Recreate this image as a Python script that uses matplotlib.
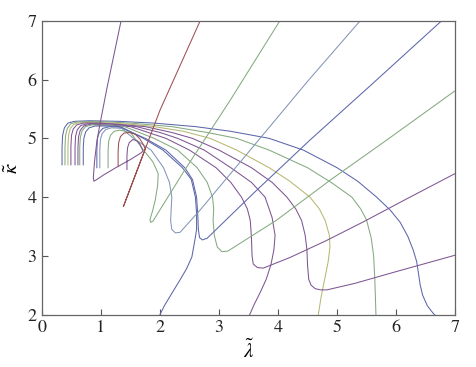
import matplotlib
matplotlib.use("Agg")
import matplotlib.pyplot as plt

plt.rcParams["font.family"] = ["STIXGeneral", "Liberation Serif", "DejaVu Serif"]
plt.rcParams["mathtext.fontset"] = "stix"

blue = "#5c66aa"
green = "#84aa80"
olive = "#b8b872"
purple = "#7e5592"
red = "#9e4e4e"
greyblue = "#8396b6"

# each curve: (x, y, colour)
c1_x = [0.34, 0.34, 0.35, 0.38, 0.44, 0.55, 0.8, 1.3, 1.9, 2.6, 3.2, 3.85, 4.43, 5.0, 5.35, 5.67, 5.90, 6.07, 6.20, 6.29, 6.35, 6.38, 6.41, 6.45, 6.53, 6.63, 6.70]
c1_y = [4.55, 4.85, 5.05, 5.18, 5.26, 5.29, 5.30, 5.29, 5.26, 5.2, 5.12, 5.0, 4.8, 4.5, 4.27, 4.0, 3.78, 3.57, 3.33, 3.1, 2.9, 2.7, 2.5, 2.33, 2.15, 2.02, 1.95]

c2_x = [0.39, 0.39, 0.40, 0.43, 0.49, 0.6, 0.9, 1.5, 2.2, 2.8, 3.3, 3.85, 4.5, 4.9, 5.25, 5.4, 5.50, 5.58, 5.62, 5.64, 5.65, 5.66]
c2_y = [4.55, 4.85, 5.05, 5.17, 5.25, 5.28, 5.29, 5.26, 5.2, 5.1, 5.0, 4.8, 4.5, 4.25, 4.0, 3.8, 3.61, 3.3, 3.0, 2.6, 2.3, 1.98]

c3_x = [0.44, 0.44, 0.45, 0.48, 0.54, 0.65, 1.0, 1.5, 1.9, 2.4, 2.85, 3.3, 3.85, 4.2, 4.54, 4.70, 4.80, 4.87, 4.88, 4.85, 4.79, 4.73, 4.68]
c3_y = [4.55, 4.85, 5.05, 5.17, 5.24, 5.27, 5.27, 5.24, 5.2, 5.12, 5.0, 4.8, 4.5, 4.27, 4.0, 3.8, 3.6, 3.35, 3.15, 2.9, 2.6, 2.3, 1.98]

c4_x = [0.49, 0.49, 0.50, 0.53, 0.59, 0.7, 1.0, 1.4, 1.75, 2.2, 2.55, 3.0, 3.55, 3.9, 4.15, 4.30, 4.40, 4.46, 4.49, 4.50, 4.52, 4.56, 4.63, 4.72, 4.83, 5.3, 6.0, 6.5, 7.0]
c4_y = [4.55, 4.85, 5.05, 5.16, 5.23, 5.26, 5.26, 5.23, 5.2, 5.1, 5.0, 4.8, 4.5, 4.25, 4.0, 3.8, 3.6, 3.35, 3.1, 2.85, 2.6, 2.5, 2.44, 2.42, 2.42, 2.53, 2.73, 2.87, 3.01]

c5_x = [0.56, 0.56, 0.57, 0.60, 0.66, 0.78, 1.1, 1.6, 2.0, 2.3, 2.75, 3.2, 3.55, 3.78, 3.90, 3.95, 3.93, 3.88, 3.80, 3.70, 3.60, 3.53, 3.50]
c5_y = [4.55, 4.85, 5.04, 5.15, 5.22, 5.25, 5.25, 5.2, 5.1, 5.0, 4.8, 4.5, 4.25, 4.0, 3.65, 3.35, 3.1, 2.85, 2.6, 2.38, 2.18, 2.02, 1.96]

c6_x = [0.61, 0.61, 0.62, 0.65, 0.71, 0.82, 1.1, 1.5, 1.8, 2.1, 2.5, 2.95, 3.2, 3.38, 3.48, 3.53, 3.55, 3.56, 3.58, 3.65, 3.75, 4.2, 4.8, 5.45, 6.2, 7.0]
c6_y = [4.55, 4.85, 5.03, 5.14, 5.21, 5.24, 5.23, 5.2, 5.1, 5.0, 4.8, 4.5, 4.25, 4.0, 3.8, 3.6, 3.3, 3.0, 2.86, 2.80, 2.79, 2.97, 3.25, 3.58, 3.98, 4.40]

c7_x = [0.64, 0.64, 0.65, 0.68, 0.74, 0.85, 1.1, 1.4, 1.9, 2.3, 2.63, 2.80, 2.89, 2.91, 2.90, 2.92, 2.97, 3.05, 3.15, 3.98, 4.9, 5.84, 7.0]
c7_y = [4.55, 4.85, 5.02, 5.13, 5.2, 5.23, 5.22, 5.2, 5.0, 4.8, 4.5, 4.25, 4.0, 3.8, 3.6, 3.35, 3.15, 3.07, 3.08, 3.61, 4.3, 4.97, 5.81]

c8_x = [0.70, 0.70, 0.71, 0.74, 0.80, 0.9, 1.1, 1.3, 1.75, 2.1, 2.42, 2.55, 2.62, 2.64, 2.65, 2.67, 2.72, 2.80, 3.6, 4.54, 5.6, 6.77]
c8_y = [4.55, 4.85, 5.0, 5.11, 5.18, 5.21, 5.21, 5.2, 5.0, 4.8, 4.5, 4.3, 4.0, 3.7, 3.45, 3.31, 3.27, 3.30, 4.08, 4.97, 5.93, 7.0]

c9_x = [0.93, 0.93, 0.94, 0.97, 1.03, 1.15, 1.35, 1.72, 2.05, 2.38, 2.53, 2.60, 2.62, 2.62, 2.60, 2.54, 2.45, 2.34, 2.2, 2.08, 2.0]
c9_y = [4.5, 4.8, 5.0, 5.1, 5.17, 5.2, 5.19, 5.0, 4.8, 4.5, 4.3, 4.0, 3.72, 3.45, 3.32, 2.98, 2.78, 2.59, 2.36, 2.16, 2.0]

c10_x = [0.98, 0.98, 0.99, 1.02, 1.08, 1.18, 1.35, 1.55, 1.85, 2.06, 2.16, 2.20, 2.19, 2.18, 2.2, 2.26, 2.34, 2.68, 3.67, 4.5, 5.39]
c10_y = [4.5, 4.8, 4.98, 5.08, 5.15, 5.18, 5.17, 5.0, 4.8, 4.5, 4.25, 4.0, 3.8, 3.6, 3.45, 3.39, 3.40, 3.78, 4.97, 5.97, 7.0]

c11_x = [1.12, 1.12, 1.13, 1.16, 1.22, 1.32, 1.5, 1.72, 1.88, 1.97, 1.96, 1.92, 1.87, 1.83, 1.84, 1.88, 2.4, 3.19, 4.03]
c11_y = [4.5, 4.78, 4.95, 5.05, 5.12, 5.14, 5.1, 4.8, 4.6, 4.4, 4.2, 3.95, 3.75, 3.62, 3.57, 3.59, 4.43, 5.65, 7.0]

c12_x = [1.29, 1.29, 1.30, 1.33, 1.39, 1.48, 1.58, 1.66, 1.72, 1.75, 1.38, 1.75, 2.0, 2.3, 2.68]
c12_y = [4.52, 4.78, 4.93, 5.03, 5.09, 5.1, 5.07, 4.99, 4.89, 4.82, 3.84, 4.82, 5.48, 6.15, 7.0]

c13_x = [1.44, 1.44, 1.45, 1.48, 1.54, 1.61, 1.66, 1.71, 1.69, 1.5, 1.25, 1.05, 0.93, 0.88, 0.87, 0.89, 0.93, 0.98, 1.1, 1.34]
c13_y = [4.47, 4.7, 4.84, 4.93, 4.98, 4.96, 4.9, 4.79, 4.76, 4.64, 4.5, 4.38, 4.3, 4.27, 4.33, 4.6, 4.95, 5.23, 5.85, 7.0]

curves = [
    (c1_x, c1_y, blue), (c2_x, c2_y, green), (c3_x, c3_y, olive),
    (c4_x, c4_y, purple), (c5_x, c5_y, purple), (c6_x, c6_y, purple),
    (c7_x, c7_y, green), (c8_x, c8_y, blue), (c9_x, c9_y, blue),
    (c10_x, c10_y, greyblue), (c11_x, c11_y, green), (c12_x, c12_y, red),
    (c13_x, c13_y, purple),
]

fig = plt.figure(figsize=(4.77, 3.67), dpi=100)
ax = fig.add_axes([0.088, 0.143, 0.866, 0.8])

for xs, ys, col in curves:
    ax.plot(xs, ys, color=col, lw=0.75, solid_joinstyle="round")

ax.set_xlim(0, 7)
ax.set_ylim(2, 7)
ax.set_xticks(range(0, 8))
ax.set_yticks(range(2, 8))
ax.tick_params(direction="in", length=4, width=0.8, colors="#555555",
               labelcolor="#222222", labelsize=13, top=False, right=False, pad=4)
for s in ax.spines.values():
    s.set_color("#666666")
    s.set_linewidth(0.9)

ax.set_xlabel(r"$\tilde{\lambda}$", fontsize=15)
ax.set_ylabel(r"$\tilde{\kappa}$", fontsize=15, rotation=90)
ax.xaxis.set_label_coords(0.5, -0.085)
ax.yaxis.set_label_coords(-0.046, 0.5)

plt.savefig("out.png", dpi=100)
